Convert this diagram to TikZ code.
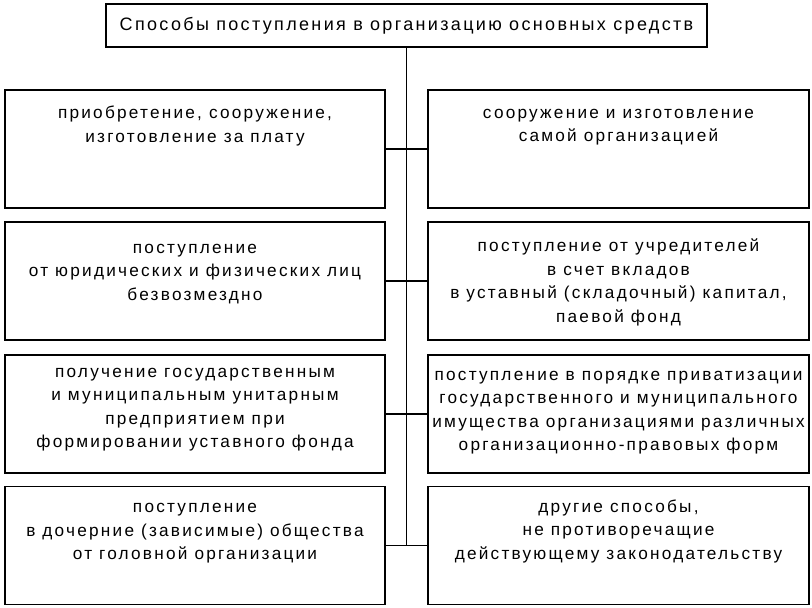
\documentclass[tikz,border=0pt]{standalone}
\usepackage{fontspec}
\setmainfont{Liberation Sans}[LetterSpace=13]
\usetikzlibrary{positioning}

\tikzset{
  waybox/.style={draw, line width=1.1pt, minimum width=380pt, minimum height=118pt, inner sep=0pt},
  waytext/.style={anchor=north, align=center, inner sep=0pt,
    font=\fontsize{17.2}{23.5}\selectfont},
}

\begin{document}
\begin{tikzpicture}[x=1pt, y=-1pt, line width=1.1pt]
  \useasboundingbox (0,0) rectangle (812,608);
  % head
  \node[draw, line width=1.1pt, minimum width=601pt, minimum height=43pt, inner sep=0pt,
    font=\fontsize{18}{20}\selectfont] (title) at (406.5,25.5)
    {Способы поступления в организацию основных средств};
  % boxes, left column
  \node[waybox] (l1) at (195,149) {};
  \node[waybox] (l2) at (195,281) {};
  \node[waybox] (l3) at (195,414) {};
  \node[waybox] (l4) at (195,545.5) {};
  % boxes, right column
  \node[waybox, minimum width=381pt] (r1) at (618.5,149) {};
  \node[waybox, minimum width=381pt] (r2) at (618.5,281) {};
  \node[waybox, minimum width=381pt] (r3) at (618.5,414) {};
  \node[waybox, minimum width=381pt] (r4) at (618.5,545.5) {};
  % texts
  \node[waytext] (l1t) at ([yshift=-16pt]l1.north)
    {приобретение, сооружение,\\изготовление за плату};
  \node[waytext] (l2t) at ([yshift=-22pt]l2.north)
    {поступление\\от юридических и физических лиц\\безвозмездно};
  \node[waytext] (l3t) at ([yshift=-13pt]l3.north)
    {получение государственным\\и муниципальным унитарным\\предприятием при\\формировании уставного фонда};
  \node[waytext] (l4t) at ([yshift=-17pt]l4.north)
    {поступление\\в дочерние (зависимые) общества\\от головной организации};
  \node[waytext] (r1t) at ([yshift=-19pt]r1.north)
    {сооружение и изготовление\\самой организацией};
  \node[waytext] (r2t) at ([yshift=-17pt]r2.north)
    {поступление от учредителей\\в счет вкладов\\в уставный (складочный) капитал,\\паевой фонд};
  \node[waytext] (r3t) at ([yshift=-16pt]r3.north)
    {поступление в порядке приватизации\\государственного и муниципального\\имущества организациями различных\\организационно-правовых форм};
  \node[waytext] (r4t) at ([yshift=-13pt]r4.north)
    {другие способы,\\не противоречащие\\действующему законодательству};
  % connectors
  \draw (title.south) -- (title.south |- l4.east);
  \draw (l1.east) -- (r1.west);
  \draw (l2.east) -- (r2.west);
  \draw (l3.east) -- (r3.west);
  \draw (l4.east) -- (r4.west);
\end{tikzpicture}
\end{document}
